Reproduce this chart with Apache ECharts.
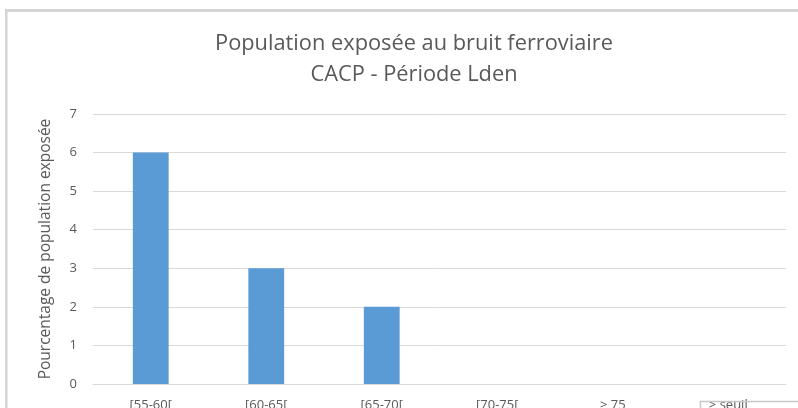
<!DOCTYPE html>
<html>
<head>
<meta charset="utf-8">
<script src="https://cdn.jsdelivr.net/npm/echarts@6/dist/echarts.min.js"></script>
<style>
html,body{margin:0;padding:0;background:#fff;}
#chart{width:798px;height:408px;}
</style>
</head>
<body>
<div id="chart"></div>
<script>
var categories = ['[55-60[', '[60-65[', '[65-70[', '[70-75[', '> 75', '> seuil'];
var values = [6, 3, 2, 0, 0, 0];
var yTicks = [0, 1, 2, 3, 4, 5, 6, 7];
var titleText = 'Population exposée au bruit ferroviaire\nCACP - Période Lden';
var yAxisTitle = 'Pourcentage de population exposée';

var chart = echarts.init(document.getElementById('chart'), null, {renderer: 'canvas'});
chart.setOption({
  backgroundColor: '#ffffff',
  animation: false,
  title: {
    text: titleText,
    left: 409,
    top: 23,
    padding: 5,
    textAlign: 'center',
    textStyle: {
      fontFamily: 'Open Sans',
      fontSize: 21.8,
      fontWeight: 'normal',
      color: '#595959',
      lineHeight: 31
    }
  },
  grid: {left: 93, right: 12, top: 114, bottom: 24, containLabel: false, outerBoundsMode: 'none'},
  xAxis: {
    type: 'category',
    data: categories,
    axisLine: {show: true, lineStyle: {color: '#d9d9d9', width: 1}},
    axisTick: {show: false},
    axisLabel: {
      margin: 15,
      fontFamily: 'Open Sans',
      fontSize: 13,
      color: '#595959',
      interval: 0
    }
  },
  yAxis: {
    type: 'value',
    min: yTicks[0],
    max: yTicks[yTicks.length - 1],
    interval: 1,
    name: yAxisTitle,
    nameLocation: 'middle',
    nameGap: 39,
    nameTextStyle: {
      fontFamily: 'Open Sans',
      fontSize: 15.5,
      color: '#595959'
    },
    axisLine: {show: false},
    axisTick: {show: false},
    splitLine: {show: true, lineStyle: {color: '#d9d9d9', width: 1}},
    axisLabel: {
      margin: 16,
      fontFamily: 'Open Sans',
      fontSize: 13,
      color: '#595959'
    }
  },
  series: [{
    type: 'bar',
    data: values,
    barWidth: '31%',
    itemStyle: {color: '#5b9bd5'}
  }],
  graphic: [
    {type: 'line', silent: true, z: 100, shape: {x1: 6.3, y1: 9, x2: 6.3, y2: 408}, style: {stroke: '#d4d4d4', lineWidth: 2.5}},
    {type: 'line', silent: true, z: 100, shape: {x1: 5, y1: 10.5, x2: 798, y2: 10.5}, style: {stroke: '#d4d4d4', lineWidth: 3}},
    {type: 'rect', silent: true, z: 100, shape: {x: 700.5, y: 401.5, width: 120, height: 20}, style: {fill: 'none', stroke: '#c8c8c8', lineWidth: 1.5}}
  ]
});
</script>
</body>
</html>
